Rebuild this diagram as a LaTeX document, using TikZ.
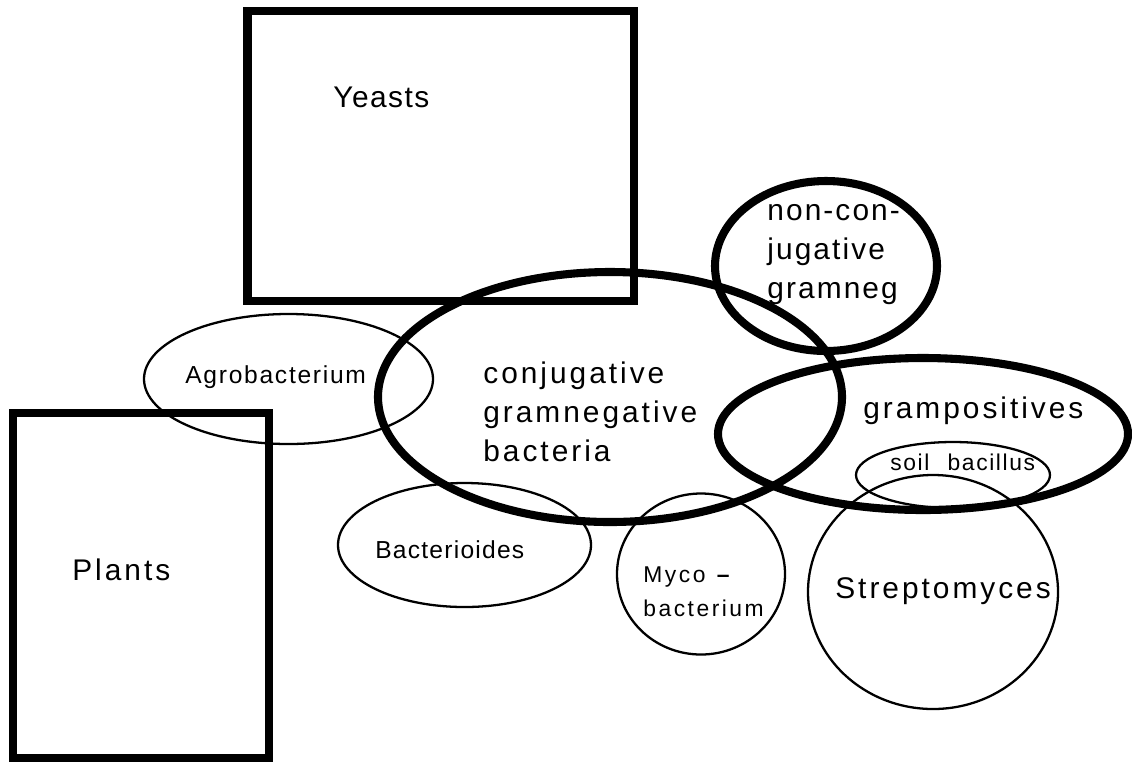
\documentclass[tikz,border=0pt]{standalone}
\usepackage{fontspec}
\setmainfont{Liberation Sans}
% letter-spaced variants of the same sans face
\newfontfamily\spacedA[LetterSpace=5]{Liberation Sans}
\newfontfamily\spacedB[LetterSpace=10]{Liberation Sans}
\newfontfamily\spacedC[LetterSpace=7]{Liberation Sans}
\newfontfamily\spacedD[LetterSpace=11]{Liberation Sans}
\begin{document}
\begin{tikzpicture}[x=0.02cm, y=-0.02cm,
  heavy/.style={line width=4.6pt, line join=miter},
  light/.style={line width=1.3pt},
  lbl/.style={inner sep=0pt, anchor=base west},
  big/.style={font=\fontsize{17}{22.4}\selectfont},
  mid/.style={font=\fontsize{14}{17}\selectfont},
  small/.style={font=\fontsize{13}{19.8}\selectfont}]
\useasboundingbox (0,0) rectangle (1132,762);

% boxes
\draw[heavy] (247.5,11) rectangle (634,301);
\draw[heavy] (13,413) rectangle (269,758);

% heavy ellipses
\draw[heavy] (610,397) ellipse [x radius=232, y radius=125];
\draw[heavy] (826,266) ellipse [x radius=111, y radius=85];
\draw[heavy] (923,434) ellipse [x radius=205, y radius=76];

% light ellipses
\draw[light] (288.5,379) ellipse [x radius=144.5, y radius=65];
\draw[light] (953,475) ellipse [x radius=97, y radius=33];
\draw[light] (933,592) ellipse [x radius=125, y radius=117];
\draw[light] (464.5,545) ellipse [x radius=126.5, y radius=62];
\draw[light] (701,574) ellipse [x radius=84, y radius=80.5];

% labels
\node[lbl, big] (yeasts) at (333,107) {\spacedA Yeasts};
\node[lbl, big] (plants) at (72,580) {\spacedB Plants};
\node[lbl, mid] (agro) at (185,383) {\spacedC Agrobacterium};
\node[lbl, big] (conj) at (483,383)
  {\spacedB\begin{tabular}[t]{@{}l@{}}conjugative\\gramnegative\\bacteria\end{tabular}};
\node[lbl, big] (noncon) at (767,220)
  {\spacedC\begin{tabular}[t]{@{}l@{}}non-con-\\jugative\\gramneg\end{tabular}};
\node[lbl, big] (grampos) at (863,418) {\spacedB grampositives};
\node[lbl, small] (soil) at (890,470) {\spacedC soil\hspace{0.8em}bacillus};
\node[lbl, big] (strep) at (835,598) {\spacedB Streptomyces};
\node[lbl, mid] (bactero) at (375,558) {\spacedA Bacterioides};
\node[lbl, small] (myco) at (643,582)
  {\spacedD\begin{tabular}[t]{@{}l@{}}Myco \textbf{–}\\bacterium\end{tabular}};
\end{tikzpicture}
\end{document}
